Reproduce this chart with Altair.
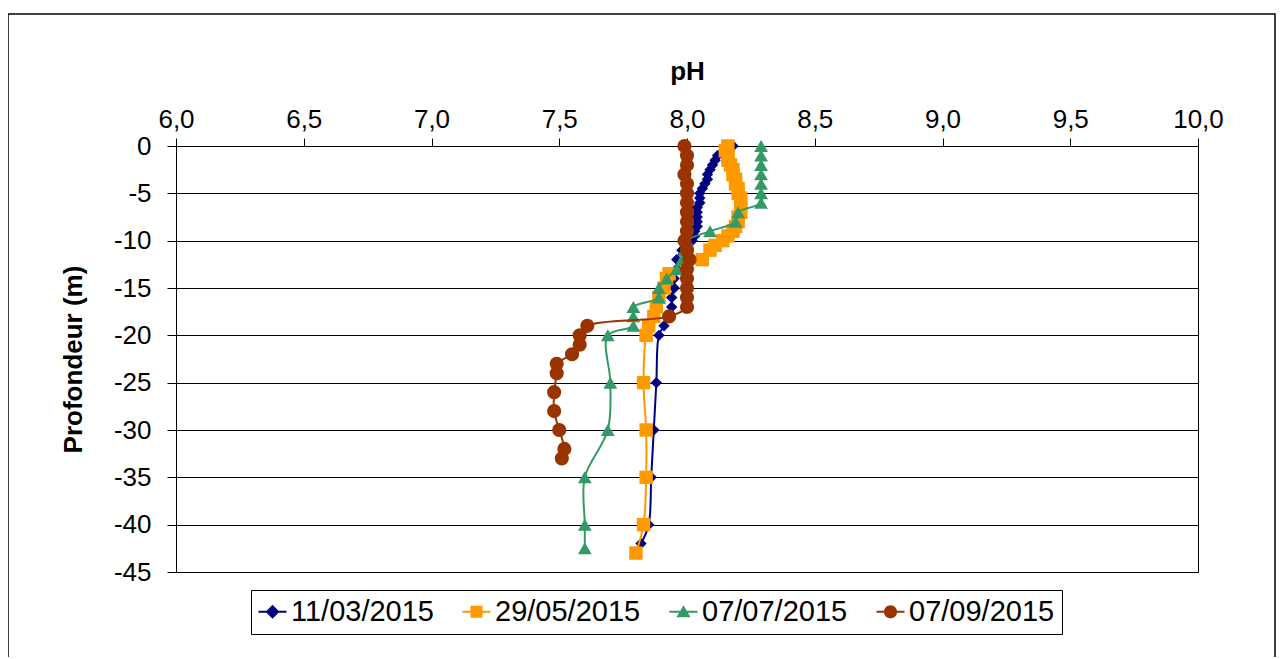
import altair as alt
import pandas as pd

series_names = ["11/03/2015", "29/05/2015", "07/07/2015", "07/09/2015"]
series_colors = ["#000080", "#FF9900", "#339966", "#993300"]
marker_shapes = ["diamond", "square", "triangle-up", "circle"]

depth_1103 = [0, -0.5, -1, -1.5, -2, -2.5, -3, -3.5, -4, -4.5, -5, -5.5, -6, -6.5, -7, -7.5, -8, -8.5, -9, -9.5, -10,
              -11, -12, -13, -14, -15, -16, -17, -18, -19, -20, -25, -30, -35, -40, -42]
ph_1103 = [8.18, 8.15, 8.12, 8.11, 8.10, 8.09, 8.08, 8.08, 8.07, 8.06, 8.05, 8.05, 8.05, 8.04, 8.04, 8.04, 8.04, 8.04, 8.03, 8.03, 8.02,
           7.98, 7.96, 7.96, 7.95, 7.95, 7.94, 7.94, 7.93, 7.91, 7.89, 7.88, 7.87, 7.86, 7.85, 7.82]

depth_2905 = [0, -0.5, -1, -1.5, -2, -2.5, -3, -3.5, -4, -4.5, -5, -5.5, -6, -6.5, -7, -7.5, -8, -8.5, -9, -9.5, -10,
              -10.5, -11, -12, -13.5, -14, -15, -16, -17, -18, -19, -20, -25, -30, -35, -40, -43]
ph_2905 = [8.16, 8.15, 8.16, 8.16, 8.17, 8.18, 8.18, 8.19, 8.19, 8.20, 8.20, 8.21, 8.21, 8.21, 8.21, 8.20, 8.20, 8.19, 8.18, 8.16, 8.14,
           8.11, 8.09, 8.06, 7.93, 7.92, 7.91, 7.89, 7.88, 7.87, 7.85, 7.84, 7.83, 7.84, 7.84, 7.83, 7.80]

depth_0707 = [0, -1, -2, -3, -4, -5, -6, -7, -8, -9, -10, -11, -12, -13, -14, -15, -16, -17, -18, -19, -20,
              -25, -30, -35, -40, -42.5]
ph_0707 = [8.29, 8.29, 8.29, 8.29, 8.29, 8.29, 8.29, 8.20, 8.19, 8.09, 8.00, 7.99, 7.98, 7.96, 7.92, 7.89, 7.89, 7.79, 7.79, 7.79, 7.69,
           7.70, 7.69, 7.60, 7.60, 7.60]

depth_0709 = [0, -1, -2, -3, -4, -5, -6, -7, -8, -9, -10, -11, -12, -13, -14, -15, -16, -17, -18, -19, -20,
              -21, -22, -23, -24, -26, -28, -30, -32, -33]
ph_0709 = [7.99, 8.00, 8.00, 7.99, 8.00, 8.00, 8.00, 8.00, 8.00, 8.00, 7.99, 8.00, 8.01, 8.00, 8.00, 8.00, 8.00, 8.00, 7.93, 7.61, 7.58,
           7.58, 7.55, 7.49, 7.49, 7.48, 7.48, 7.50, 7.52, 7.51]

x_ticks = [6.0, 6.5, 7.0, 7.5, 8.0, 8.5, 9.0, 9.5, 10.0]
y_ticks = [0, -5, -10, -15, -20, -25, -30, -35, -40, -45]

rows = []
for name, dep, ph in zip(series_names,
                         [depth_1103, depth_2905, depth_0707, depth_0709],
                         [ph_1103, ph_2905, ph_0707, ph_0709]):
    for i, (d, p) in enumerate(zip(dep, ph)):
        rows.append({"series": name, "depth": d, "ph": p, "idx": i})
df = pd.DataFrame(rows)

FONT = "Liberation Sans"

x_enc = alt.X("ph:Q", scale=alt.Scale(domain=[6, 10], nice=False, zero=False),
              axis=alt.Axis(orient="top", values=x_ticks, title="pH", grid=False, labelFlush=False,
                            labelExpr="replace(format(datum.value, '.1f'), '.', ',')",
                            tickSize=8, labelPadding=6, titlePadding=22))
y_enc = alt.Y("depth:Q", scale=alt.Scale(domain=[-45, 0], nice=False, zero=False),
              axis=alt.Axis(values=y_ticks, title="Profondeur (m)", grid=True, labelFlush=False,
                            labelExpr="toString(datum.value)",
                            tickSize=9, labelPadding=16, titlePadding=27))

color_scale = alt.Scale(domain=series_names, range=series_colors)
shape_scale = alt.Scale(domain=series_names, range=marker_shapes)
marker_sizes = [130, 180, 190, 200]

series_layers = []
for name, sz in zip(series_names, marker_sizes):
    sub = alt.Chart(df).transform_filter(alt.datum.series == name)
    line = sub.mark_line(interpolate="catmull-rom", strokeWidth=2).encode(
        x=x_enc, y=y_enc, order="idx:Q",
        color=alt.Color("series:N", scale=color_scale, legend=None))
    pts = sub.mark_point(filled=True, opacity=1, size=sz).encode(
        x=x_enc, y=y_enc,
        color=alt.Color("series:N", scale=color_scale, legend=None),
        shape=alt.Shape("series:N", scale=shape_scale, legend=None))
    series_layers += [line, pts]

inner = alt.layer(*series_layers)

# legend symbols: line segment + marker (unit = 14 px at symbol size 784)
bar = "M-1,-0.075H1V0.075H-1Z"
legend_paths = [
    bar + "M0,-0.5L0.5,0L0,0.5L-0.5,0Z",
    bar + "M-0.43,-0.43H0.43V0.43H-0.43Z",
    bar + "M0,-0.47L0.5,0.4H-0.5Z",
    bar + "M0.47,0A0.47,0.47 0 1,1 -0.47,0A0.47,0.47 0 1,1 0.47,0Z",
]
leg = dict(title=None, orient="none", legendX=75, legendY=444,
           direction="horizontal", columns=4,
           symbolSize=784, symbolStrokeWidth=0, symbolOpacity=1,
           labelFontSize=29, labelFont=FONT, labelColor="#000",
           labelOffset=4, columnPadding=28, padding=7,
           strokeColor="#000", fillColor="#fff")
legend_layer = alt.Chart(df).transform_filter("false").mark_point(filled=True, opacity=1, size=784).encode(
    x=x_enc, y=y_enc,
    color=alt.Color("series:N", scale=color_scale, legend=alt.Legend(**leg)),
    shape=alt.Shape("series:N", scale=alt.Scale(domain=series_names, range=legend_paths),
                    legend=alt.Legend(**leg)),
)

frame = alt.Chart(alt.Data(values=[{"a": 1}])).mark_rect(
    fill=None, stroke="#000", strokeWidth=1.5).encode(
    x=alt.value(-168), x2=alt.value(1099), y=alt.value(-132), y2=alt.value(530))

chart = alt.layer(frame, inner, legend_layer).resolve_scale(
    color="independent", shape="independent"
).properties(
    width=1022, height=426,
    autosize=alt.AutoSizeParams(type="none"),
    padding={"left": 168, "top": 138, "right": 78, "bottom": 85},
    background="#ffffff",
).configure_view(
    stroke="#000", strokeWidth=1
).configure_axis(
    labelFont=FONT, labelFontSize=26, labelColor="#000",
    titleFont=FONT, titleFontSize=26, titleFontWeight="bold", titleColor="#000",
    domainColor="#000", domainWidth=1, tickColor="#000", tickWidth=1,
    gridColor="#000", gridWidth=1, gridOpacity=1,
)

chart.save("out.html", embed_options={"renderer": "svg", "actions": False})
